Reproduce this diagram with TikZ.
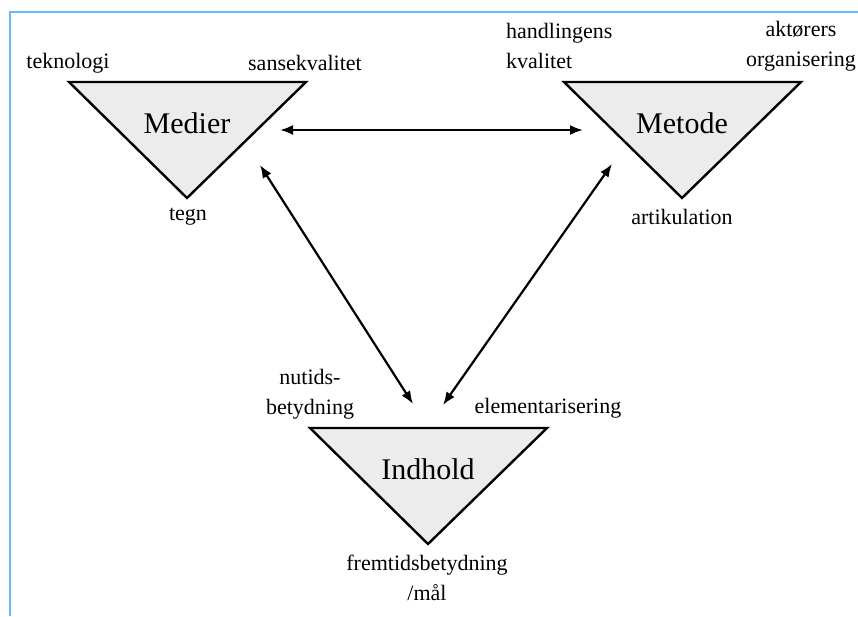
\documentclass[tikz,border=0pt]{standalone}
\usepackage{fontspec}
\setmainfont{Liberation Serif}
\usetikzlibrary{arrows.meta,positioning,calc}

\begin{document}
\begin{tikzpicture}[
  x=1pt, y=-1pt,
  tri/.style={draw, line width=2.4pt, fill=gray!15, line join=miter},
  big/.style={font=\fontsize{30}{34}\selectfont, inner sep=0pt},
  lbl/.style={font=\fontsize{22}{30}\selectfont, align=center, inner sep=0pt},
  arr/.style={{Latex[length=13pt,width=10pt]}-{Latex[length=13pt,width=10pt]}, line width=2.2pt},
  frame/.style={draw=blue!45!cyan!60!white, line width=2pt}
]
\useasboundingbox (0,0) rectangle (858,616);
\draw[frame] (10,616) -- (10,12) -- (858,12);

% the three triangles
\foreach \n/\x/\y/\t in {med/187/82/Medier, met/682/82/Metode, ind/428/428/Indhold} {
  \draw[tri] (\x-118,\y) -- (\x+119,\y) -- (\x,\y+116) -- cycle;
  \node[big] (\n) at (\x,\y+41) {\t};
}

% corner labels
\node[lbl] (tek) at (68,63) {teknologi};
\node[lbl] (san) at (305,63) {sansekvalitet};
\node[lbl] (teg) at (188,217) {tegn};
\node[lbl, align=left, anchor=west] (han) at (506,46) {handlingens\\kvalitet};
\node[lbl] (akt) at (801,46) {aktørers\\organisering};
\node[lbl] (art) at (682,217) {artikulation};
\node[lbl] (nut) at (310,394) {nutids-\\betydning};
\node[lbl] (ele) at (548,408) {elementarisering};
\node[lbl] (fre) at (427,578) {fremtidsbetydning\\/mål};

% arrow ends
\coordinate (medE) at ($(med)+(93,7)$);
\coordinate (metW) at ($(met)+(-99,7)$);
\coordinate (medS) at ($(med)+(73,42)$);
\coordinate (metS) at ($(met)+(-70,41)$);
\coordinate (indL) at ($(ind)+(-15,-65)$);
\coordinate (indR) at ($(ind)+(15,-64)$);

\draw[arr] (medE) -- (metW);
\draw[arr] (medS) -- (indL);
\draw[arr] (metS) -- (indR);
\end{tikzpicture}
\end{document}
